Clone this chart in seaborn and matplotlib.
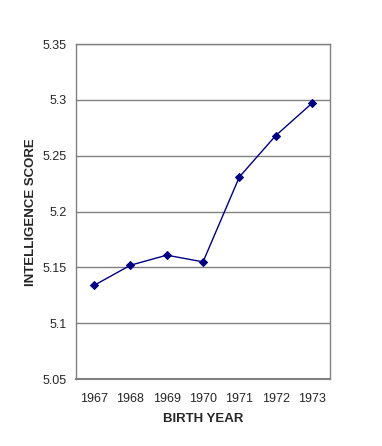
import numpy as np
import pandas as pd
import matplotlib
matplotlib.use("Agg")
import matplotlib.pyplot as plt
import seaborn as sns

# values
years = ["1967", "1968", "1969", "1970", "1971", "1972", "1973"]
scores = [5.134, 5.152, 5.161, 5.155, 5.231, 5.268, 5.297]

df = pd.DataFrame({"year": years, "score": scores})

sns.set_style("white")
plt.rcParams["font.family"] = ["Liberation Sans", "DejaVu Sans"]

fig = plt.figure(figsize=(3.82, 4.46), dpi=100)
ax = fig.add_axes([0.199, 0.150, 0.665, 0.751])

sns.lineplot(data=df, x="year", y="score", ax=ax, color="#000080",
             marker="D", markersize=4, markeredgecolor="#000080",
             linewidth=1, zorder=3)

ax.set_ylim(5.05, 5.35)
ax.set_yticks(np.arange(5.05, 5.351, 0.05))
ax.set_yticklabels(["5.05", "5.1", "5.15", "5.2", "5.25", "5.3", "5.35"])
ax.yaxis.grid(True, color="#808080", linewidth=1)

# category boundaries as tick marks, labels centered
n = len(years)
ax.set_xlim(-0.5, n - 0.5)
ax.set_xticks(np.arange(-0.5, n, 1.0))
ax.set_xticklabels([])
ax.set_xticks(np.arange(n), minor=True)
ax.set_xticklabels(years, minor=True)
ax.tick_params(axis="x", which="major", length=4, width=1, color="#808080", direction="out")
ax.tick_params(axis="x", which="minor", length=0, pad=10, labelsize=9)
ax.tick_params(axis="y", length=4, width=1, color="#808080", direction="out", labelsize=9, pad=3)

for side in ["left", "right", "top"]:
    ax.spines[side].set_color("#808080")
    ax.spines[side].set_linewidth(1)
ax.spines["bottom"].set_color("#808080")
ax.spines["bottom"].set_linewidth(1.5)

ax.set_xlabel("BIRTH YEAR", fontsize=9.5, fontweight="bold", labelpad=6)
ax.set_ylabel("INTELLIGENCE SCORE", fontsize=9.5, fontweight="bold", labelpad=4)

fig.savefig("out.png", dpi=100, facecolor="white")
